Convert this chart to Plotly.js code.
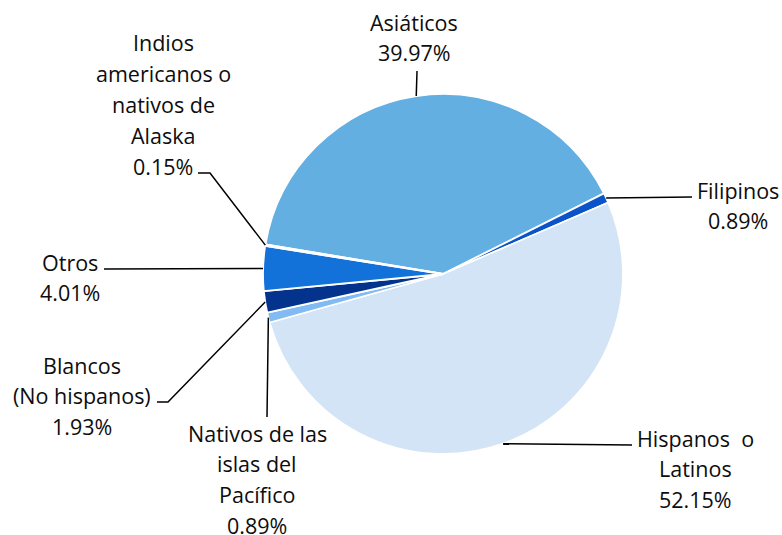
<!DOCTYPE html>
<html>
<head>
<meta charset="utf-8">
<script src="https://cdn.plot.ly/plotly-3.0.1.min.js"></script>
<style>html,body{margin:0;padding:0;background:#fff;}#chart{width:782px;height:535px;}</style>
</head>
<body>
<div id="chart"></div>
<script>
// ---- data ----
var categories = ["Asiáticos", "Filipinos", "Hispanos  o Latinos", "Nativos de las islas del Pacífico", "Blancos (No hispanos)", "Otros", "Indios americanos o nativos de Alaska"];
var values = [39.97, 0.89, 52.15, 0.89, 1.93, 4.01, 0.15];
var labelLines = [
  ["Asiáticos"],
  ["Filipinos"],
  ["Hispanos  o", "Latinos"],
  ["Nativos de las", "islas del", "Pacífico"],
  ["Blancos", "(No hispanos)"],
  ["Otros"],
  ["Indios", "americanos o", "nativos de", "Alaska"]
];
var colors = ["#63AFE2", "#0B53C9", "#D2E4F5", "#82BBF3", "#04338E", "#1372DA", "#3E8FE0"];

// ---- layout geometry (pixels) ----
var W = 782, H = 535;
var CX = 443, CY = 274, R = 180;
var ROT = 279.5;
// label blocks: center x, first line center y
var labelPos = [[414, 22], [738, 190], [695, 438], [257, 433], [82, 365], [70, 262], [163, 43]];
// leader start (label side) and optional elbow
var leaderStart = [[417, 71], [692, 197], [632, 445], [267, 417], [157, 402], [104, 269], [198, 173]];
var leaderElbow = [null, null, null, null, [168, 402], null, [210, 173]];
var LINE_H = 30.8;
var FONT = "'Open Sans', Lato, sans-serif";

function px(x) { return x / W; }
function py(y) { return 1 - y / H; }

var total = values.reduce(function (a, b) { return a + b; }, 0);
var annotations = [];
var shapes = [];
var cum = 0;
for (var i = 0; i < values.length; i++) {
  var mid = ROT + (cum + values[i] / 2) / total * 360;
  cum += values[i];
  var a = mid * Math.PI / 180;
  var ax = CX + R * Math.sin(a), ay = CY - R * Math.cos(a);
  var lines = labelLines[i].concat([values[i].toFixed(2) + "%"]);
  for (var j = 0; j < lines.length; j++) {
    annotations.push({
      xref: "paper", yref: "paper",
      x: px(labelPos[i][0]), y: py(labelPos[i][1] + j * LINE_H),
      xanchor: "center", yanchor: "middle",
      text: lines[j], showarrow: false,
      font: {family: FONT, size: 21.5, color: "#0d0d0d"}
    });
  }
  var s = leaderStart[i];
  var path = "M" + px(s[0]) + "," + py(s[1]);
  if (leaderElbow[i]) path += " L" + px(leaderElbow[i][0]) + "," + py(leaderElbow[i][1]);
  path += " L" + px(ax) + "," + py(ay);
  shapes.push({type: "path", xref: "paper", yref: "paper", path: path,
    line: {color: "#000000", width: 1.5}, layer: "above"});
}

var trace = {
  type: "pie",
  labels: categories,
  values: values,
  sort: false,
  direction: "clockwise",
  rotation: ROT,
  textinfo: "none",
  hoverinfo: "label+percent",
  marker: {colors: colors, line: {color: "#ffffff", width: 1.8}},
  domain: {x: [px(CX - R), px(CX + R)], y: [py(CY + R), py(CY - R)]},
  automargin: false
};

var layout = {
  width: W, height: H,
  margin: {l: 0, r: 0, t: 0, b: 0},
  showlegend: false,
  paper_bgcolor: "#ffffff",
  annotations: annotations,
  shapes: shapes,
  font: {family: FONT}
};

Plotly.newPlot("chart", [trace], layout, {displayModeBar: false, staticPlot: true});
</script>
</body>
</html>
